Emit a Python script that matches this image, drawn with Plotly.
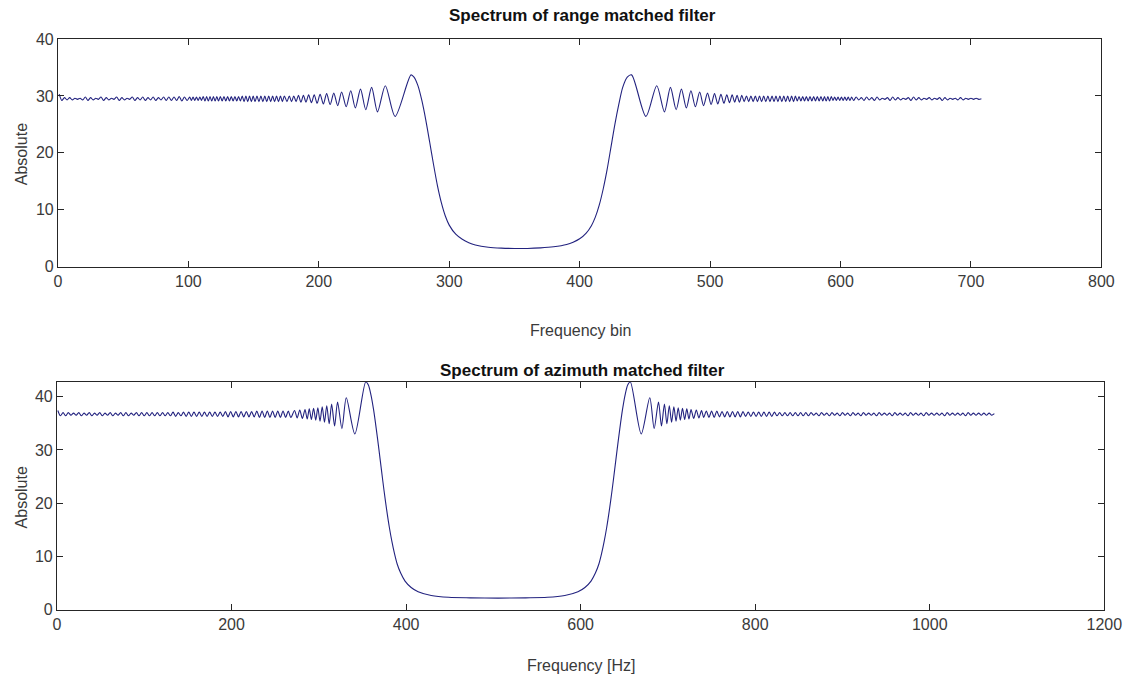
import plotly.graph_objects as go

# ---------------- data ----------------
# Top panel: "Spectrum of range matched filter" (x = frequency bin)
top_dense_left_x = [1, 3, 5, 7, 9, 11, 13, 15, 17, 19,
                    21, 23, 25, 27, 29, 31, 33, 35, 37, 39,
                    41, 43, 45, 47, 49, 51, 53, 55, 57, 59,
                    61, 63, 65, 67, 69, 71, 73, 75, 77, 79,
                    81, 83, 85, 87, 89, 91, 93, 95, 97, 99]
top_dense_left_y = [30.3, 29.2, 29.7, 29.3, 29.7, 29.3, 29.6, 29.4, 29.6, 29.3,
                    29.8, 29.2, 29.7, 29.3, 29.6, 29.4, 29.8, 29.2, 29.7, 29.3,
                    29.6, 29.4, 29.8, 29.2, 29.7, 29.3, 29.6, 29.4, 29.8, 29.2,
                    29.7, 29.3, 29.8, 29.2, 29.7, 29.3, 29.8, 29.2, 29.7, 29.3,
                    29.8, 29.2, 29.8, 29.2, 29.8, 29.2, 29.9, 29.1, 29.8, 29.2]

top_mid_left_x = [101, 102.3, 103.6, 104.9, 106.2, 107.5, 108.8, 110.1, 111.4, 112.7,
                  114, 115.3, 116.6, 117.9, 119.2, 120.5, 121.8, 123.1, 124.5, 125.9,
                  127.3, 128.7, 130.1, 131.5, 132.9, 134.3, 135.7, 137.1, 138.5, 139.9,
                  141.3, 142.7, 144.1, 145.5, 146.9, 148.3, 149.7, 151.1, 152.6, 154.1,
                  155.6, 157.1, 158.6, 160.1, 161.6, 163.1, 164.6, 166.1, 167.6, 169.1,
                  170.6, 172.1, 173.6, 175.6]
top_mid_left_y = [29.8, 29.2, 29.8, 29.2, 29.8, 29.2, 29.8, 29.2, 29.9, 29.1,
                  29.9, 29.1, 29.9, 29.1, 29.9, 29.1, 29.9, 29.1, 29.9, 29.1,
                  29.9, 29.1, 29.9, 29.1, 29.9, 29.1, 29.9, 29.1, 29.9, 29.1,
                  30.0, 29.0, 30.0, 29.0, 30.0, 29.0, 30.0, 29.0, 30.0, 29.0,
                  30.0, 29.0, 30.0, 29.0, 30.0, 29.0, 30.0, 29.0, 30.0, 29.0,
                  30.0, 29.0, 30.0, 29.0]

top_lobe_left_x = [177.4, 179.1, 180.8, 182.6, 184.4, 186.3, 188.2, 190.2, 192.2, 194.3,
                   196.5, 198.7, 201, 203.5, 206, 208.7, 211.5, 214.5, 217.5, 221,
                   224.5, 228, 232, 236, 240.5, 245, 251, 258.5, 270.7]
top_lobe_left_y = [30.0, 29.0, 30.0, 29.0, 30.1, 28.9, 30.1, 28.9, 30.2, 28.8,
                   30.2, 28.7, 30.3, 28.6, 30.4, 28.5, 30.5, 28.3, 30.7, 28.1,
                   30.9, 27.9, 31.2, 27.6, 31.5, 27.2, 31.8, 26.4, 33.7]

top_valley_x = [273, 276, 279, 282, 285, 288, 291, 294, 297, 300,
                305, 310, 315, 320, 330, 340, 350, 360, 370, 380,
                390, 395, 400, 405, 409, 412, 415, 418, 421, 424,
                427, 430, 433, 436.5]
top_valley_y = [33.3, 31.8, 29.2, 25.8, 21.9, 17.9, 14.2, 11.2, 8.9, 7.3,
                5.7, 4.8, 4.2, 3.8, 3.4, 3.25, 3.2, 3.2, 3.3, 3.5,
                3.9, 4.3, 4.9, 5.9, 7.2, 8.7, 10.8, 13.6, 17.0, 21.0,
                25.0, 28.5, 31.5, 33.3]

top_lobe_right_x = [439.8, 450.8, 459.1, 465, 469.6, 474, 478, 481.8, 485.3, 488.7,
                    492, 495, 498, 500.8, 503.4, 505.9, 508.3, 510.6, 512.8, 514.9,
                    516.9, 518.8, 520.7, 522.5, 524.3, 526.1, 527.9, 529.6, 531.3, 533,
                    534.7]
top_lobe_right_y = [33.7, 26.4, 31.8, 27.2, 31.5, 27.6, 31.2, 27.9, 30.9, 28.1,
                    30.7, 28.3, 30.5, 28.5, 30.4, 28.6, 30.3, 28.7, 30.2, 28.8,
                    30.2, 28.9, 30.1, 28.9, 30.1, 29.0, 30.0, 29.0, 30.0, 29.0,
                    30.0]

top_mid_right_x = [536.3, 537.9, 539.5, 541.1, 542.7, 544.3, 545.9, 547.5, 549, 550.5,
                   552, 553.5, 555, 556.5, 558, 559.5, 561, 562.5, 564, 565.4,
                   566.8, 568.2, 569.6, 571, 572.4, 573.8, 575.2, 576.6, 578, 579.4,
                   580.8, 582.2, 583.6, 585, 586.4, 587.7, 589, 590.3, 591.6, 592.9,
                   594.2, 595.5, 596.8, 598.1, 599.4, 600.7, 602, 603.3, 604.6, 605.9,
                   607.2, 608.5]
top_mid_right_y = [29.0, 30.0, 29.0, 30.0, 29.0, 30.0, 29.0, 30.0, 29.0, 30.0,
                   29.0, 30.0, 29.0, 30.0, 29.0, 30.0, 29.0, 30.0, 29.0, 30.0,
                   29.1, 29.9, 29.1, 29.9, 29.1, 29.9, 29.1, 29.9, 29.1, 29.9,
                   29.1, 29.9, 29.1, 29.9, 29.1, 29.9, 29.1, 29.9, 29.1, 29.9,
                   29.2, 29.8, 29.2, 29.8, 29.2, 29.8, 29.2, 29.8, 29.2, 29.8,
                   29.2, 29.8]

top_dense_right_x = [610, 612, 614, 616, 618, 620, 622, 624, 626, 628,
                     630, 632, 634, 636, 638, 640, 642, 644, 646, 648,
                     650, 652, 654, 656, 658, 660, 662, 664, 666, 668,
                     670, 672, 674, 676, 678, 680, 682, 684, 686, 688,
                     690, 692, 694, 696, 698, 700, 702, 704, 706, 708]
top_dense_right_y = [29.2, 29.8, 29.3, 29.7, 29.2, 29.8, 29.3, 29.7, 29.2, 29.8,
                     29.3, 29.6, 29.4, 29.7, 29.2, 29.8, 29.3, 29.7, 29.3, 29.6,
                     29.4, 29.7, 29.2, 29.8, 29.3, 29.7, 29.3, 29.6, 29.4, 29.7,
                     29.3, 29.6, 29.4, 29.7, 29.2, 29.7, 29.3, 29.6, 29.4, 29.6,
                     29.3, 29.7, 29.3, 29.6, 29.4, 29.6, 29.4, 29.6, 29.4, 29.5]

# Bottom panel: "Spectrum of azimuth matched filter" (x = frequency in Hz)
bot_dense_left_x = [1, 4, 7, 10, 13, 16, 19, 22, 25, 28,
                    31, 34, 37, 40, 43, 46, 49, 52, 55, 58,
                    61, 64, 67, 70, 73, 76, 79, 82, 85, 88,
                    91, 94, 97, 100, 103, 106, 109, 112, 115, 118,
                    121, 124, 127, 130, 133, 136, 139, 142, 145, 148,
                    151, 154, 157, 160, 163, 166, 169, 172, 175, 178,
                    181, 184, 187, 190, 193, 196, 199, 202, 205, 208,
                    211, 214, 217, 220, 223, 226, 229, 232, 235, 238,
                    241, 244, 247, 250, 253, 256, 259, 262, 265, 268]
bot_dense_left_y = [37.4, 36.4, 37.0, 36.4, 37.0, 36.5, 36.9, 36.5, 37.0, 36.4,
                    36.9, 36.5, 37.0, 36.4, 36.9, 36.5, 37.0, 36.4, 36.9, 36.5,
                    37.0, 36.4, 36.9, 36.5, 37.0, 36.4, 37.0, 36.4, 36.9, 36.5,
                    37.0, 36.4, 37.0, 36.4, 37.0, 36.4, 37.0, 36.4, 37.0, 36.4,
                    37.0, 36.4, 37.0, 36.4, 37.1, 36.3, 37.0, 36.4, 37.1, 36.3,
                    37.1, 36.3, 37.1, 36.3, 37.1, 36.3, 37.1, 36.3, 37.1, 36.3,
                    37.1, 36.3, 37.1, 36.3, 37.2, 36.2, 37.2, 36.2, 37.2, 36.2,
                    37.2, 36.2, 37.2, 36.2, 37.2, 36.2, 37.3, 36.1, 37.3, 36.1,
                    37.3, 36.1, 37.3, 36.1, 37.3, 36.1, 37.3, 36.1, 37.3, 36.1]

bot_lobe_left_x = [272.2, 275.2, 278.2, 281.2, 284.2, 286.7, 289.1, 291.5, 294, 296.5,
                   298.9, 301.4, 303.9, 306.5, 309.1, 311.9, 314.7, 318.1, 321.5, 326.5,
                   331.5, 341.3, 353.8]
bot_lobe_left_y = [37.4, 36.0, 37.5, 35.9, 37.6, 35.8, 37.7, 35.7, 37.8, 35.6,
                   37.9, 35.4, 38.1, 35.2, 38.3, 34.9, 38.6, 34.5, 39.0, 34.0,
                   39.8, 33.0, 42.8]

bot_valley_x = [356.8, 359.8, 362.8, 365.8, 368.8, 371.8, 374.8, 377.8, 380.8, 383.8,
                386.8, 389.8, 393.8, 398.8, 405.8, 413.8, 428.8, 448.8, 473.8, 505.4,
                536.9, 561.9, 581.9, 596.9, 604.9, 611.9, 616.9, 620.9, 623.9, 626.9,
                629.9, 632.9, 635.9, 638.9, 641.9, 644.9, 647.9, 650.9, 653.9]
bot_valley_y = [42.2, 40.3, 37.5, 34.0, 30.2, 26.2, 22.3, 18.7, 15.5, 12.8,
                10.5, 8.6, 6.9, 5.4, 4.2, 3.4, 2.7, 2.35, 2.25, 2.2,
                2.25, 2.35, 2.7, 3.4, 4.2, 5.4, 6.9, 8.6, 10.5, 12.8,
                15.5, 18.7, 22.3, 26.2, 30.2, 34.0, 37.5, 40.3, 42.2]

bot_lobe_right_x = [656.9, 669.4, 679.2, 684.2, 689.2, 692.6, 696, 698.8, 701.6, 704.2,
                    706.8, 709.3, 711.8, 714.2, 716.7, 719.2, 721.6, 724.1, 726.5, 729.5,
                    732.5, 735.5, 738.5]
bot_lobe_right_y = [42.8, 33.0, 39.8, 34.0, 39.0, 34.5, 38.6, 34.9, 38.3, 35.2,
                    38.1, 35.4, 37.9, 35.6, 37.8, 35.7, 37.7, 35.8, 37.6, 35.9,
                    37.5, 36.0, 37.4]

bot_dense_right_x = [741, 744, 747, 750, 753, 756, 759, 762, 765, 768,
                     771, 774, 777, 780, 783, 786, 789, 792, 795, 798,
                     801, 804, 807, 810, 813, 816, 819, 822, 825, 828,
                     831, 834, 837, 840, 843, 846, 849, 852, 855, 858,
                     861, 864, 867, 870, 873, 876, 879, 882, 885, 888,
                     891, 894, 897, 900, 903, 906, 909, 912, 915, 918,
                     921, 924, 927, 930, 933, 936, 939, 942, 945, 948,
                     951, 954, 957, 960, 963, 966, 969, 972, 975, 978,
                     981, 984, 987, 990, 993, 996, 999, 1002, 1005, 1008,
                     1011, 1014, 1017, 1020, 1023, 1026, 1029, 1032, 1035, 1038,
                     1041, 1044, 1047, 1050, 1053, 1056, 1059, 1062, 1065, 1068,
                     1071, 1074]
bot_dense_right_y = [36.1, 37.3, 36.1, 37.3, 36.1, 37.3, 36.2, 37.2, 36.2, 37.2,
                     36.2, 37.2, 36.2, 37.2, 36.2, 37.2, 36.3, 37.1, 36.3, 37.1,
                     36.3, 37.1, 36.3, 37.1, 36.3, 37.1, 36.3, 37.1, 36.4, 37.0,
                     36.4, 37.0, 36.4, 37.0, 36.4, 37.0, 36.4, 37.0, 36.4, 37.0,
                     36.4, 37.0, 36.5, 36.9, 36.4, 37.0, 36.5, 36.9, 36.4, 37.0,
                     36.5, 36.9, 36.4, 37.0, 36.5, 36.9, 36.4, 37.0, 36.5, 36.9,
                     36.4, 37.0, 36.5, 36.9, 36.5, 36.9, 36.4, 37.0, 36.5, 36.9,
                     36.5, 36.9, 36.4, 37.0, 36.5, 36.9, 36.5, 36.9, 36.4, 37.0,
                     36.5, 36.9, 36.5, 36.9, 36.4, 37.0, 36.5, 36.9, 36.5, 36.9,
                     36.5, 36.9, 36.4, 37.0, 36.5, 36.9, 36.5, 36.9, 36.5, 36.9,
                     36.4, 37.0, 36.5, 36.9, 36.5, 36.9, 36.5, 36.9, 36.5, 36.9,
                     36.5, 36.8]

top_xticks = [0, 100, 200, 300, 400, 500, 600, 700, 800]
bot_xticks = [0, 200, 400, 600, 800, 1000, 1200]
yticks = [0, 10, 20, 30, 40]

top_title = "Spectrum of range matched filter"
bot_title = "Spectrum of azimuth matched filter"
top_xlabel = "Frequency bin"
bot_xlabel = "Frequency [Hz]"
ylabel = "Absolute"

# ---------------- assemble ----------------
top_x = (top_dense_left_x + top_mid_left_x + top_lobe_left_x + top_valley_x
         + top_lobe_right_x + top_mid_right_x + top_dense_right_x)
top_y = (top_dense_left_y + top_mid_left_y + top_lobe_left_y + top_valley_y
         + top_lobe_right_y + top_mid_right_y + top_dense_right_y)
bot_x = (bot_dense_left_x + bot_lobe_left_x + bot_valley_x
         + bot_lobe_right_x + bot_dense_right_x)
bot_y = (bot_dense_left_y + bot_lobe_left_y + bot_valley_y
         + bot_lobe_right_y + bot_dense_right_y)
assert len(top_x) == len(top_y), (len(top_x), len(top_y))
assert len(bot_x) == len(bot_y), (len(bot_x), len(bot_y))

LINE = "#22227f"
FONT = "Liberation Sans Narrow, Arial Narrow, Liberation Sans, Arial, sans-serif"
TXT = "#3a3a3a"
W, H = 1139, 684

# vertical layout positions (page pixels), corrected for the photographed scale
SY, OY = 0.9746, 8.5


def fx(px):
    return px / W


def fy(py):
    return 1 - (py - OY) / SY / H


fig = go.Figure()
fig.add_trace(go.Scatter(x=top_x, y=top_y, mode="lines", xaxis="x", yaxis="y",
                         line=dict(color=LINE, width=1.1, shape="spline", smoothing=0.8),
                         showlegend=False, hoverinfo="skip"))
fig.add_trace(go.Scatter(x=bot_x, y=bot_y, mode="lines", xaxis="x2", yaxis="y2",
                         line=dict(color=LINE, width=1.1, shape="spline", smoothing=0.8),
                         showlegend=False, hoverinfo="skip"))

ax = dict(showline=True, linecolor="#262626", linewidth=1, mirror="ticks",
          ticks="inside", ticklen=6, tickwidth=1, tickcolor="#262626",
          showgrid=False, zeroline=False, ticklabeloverflow="allow",
          tickfont=dict(family=FONT, size=16, color=TXT))

fig.update_layout(
    width=W, height=H,
    margin=dict(l=0, r=0, t=0, b=0),
    paper_bgcolor="white", plot_bgcolor="white",
    xaxis=dict(domain=[fx(55), fx(1119)], range=[0, 800], tickvals=top_xticks,
               anchor="y", **ax),
    yaxis=dict(domain=[fy(267), fy(39.5)], range=[0, 40], tickvals=yticks,
               anchor="x", **ax),
    xaxis2=dict(domain=[fx(54), fx(1122)], range=[0, 1200], tickvals=bot_xticks,
                anchor="y2", **ax),
    yaxis2=dict(domain=[fy(610), fy(382)], range=[0, 42.8], tickvals=yticks,
                anchor="x2", **ax),
)


def ann(text, x, y, size, bold=False, angle=0, color=TXT):
    return dict(text=f"<b>{text}</b>" if bold else text, x=fx(x), y=fy(y),
                xref="paper", yref="paper", xanchor="center", yanchor="middle",
                showarrow=False, textangle=angle,
                font=dict(family=FONT, size=size, color=color))


fig.update_layout(annotations=[
    ann(top_title, 590, 16, 17, bold=True, color="#111111"),
    ann(bot_title, 590, 371, 17, bold=True, color="#111111"),
    ann(top_xlabel, 588, 331, 16),
    ann(bot_xlabel, 588, 666, 16),
    ann(ylabel, 18, 155, 16, angle=-90),
    ann(ylabel, 18, 498, 16, angle=-90),
])

fig.write_html(
    "out.html",
    config={"displayModeBar": False},
    post_script="document.body.style.margin='0';document.body.style.overflow='hidden';",
)
